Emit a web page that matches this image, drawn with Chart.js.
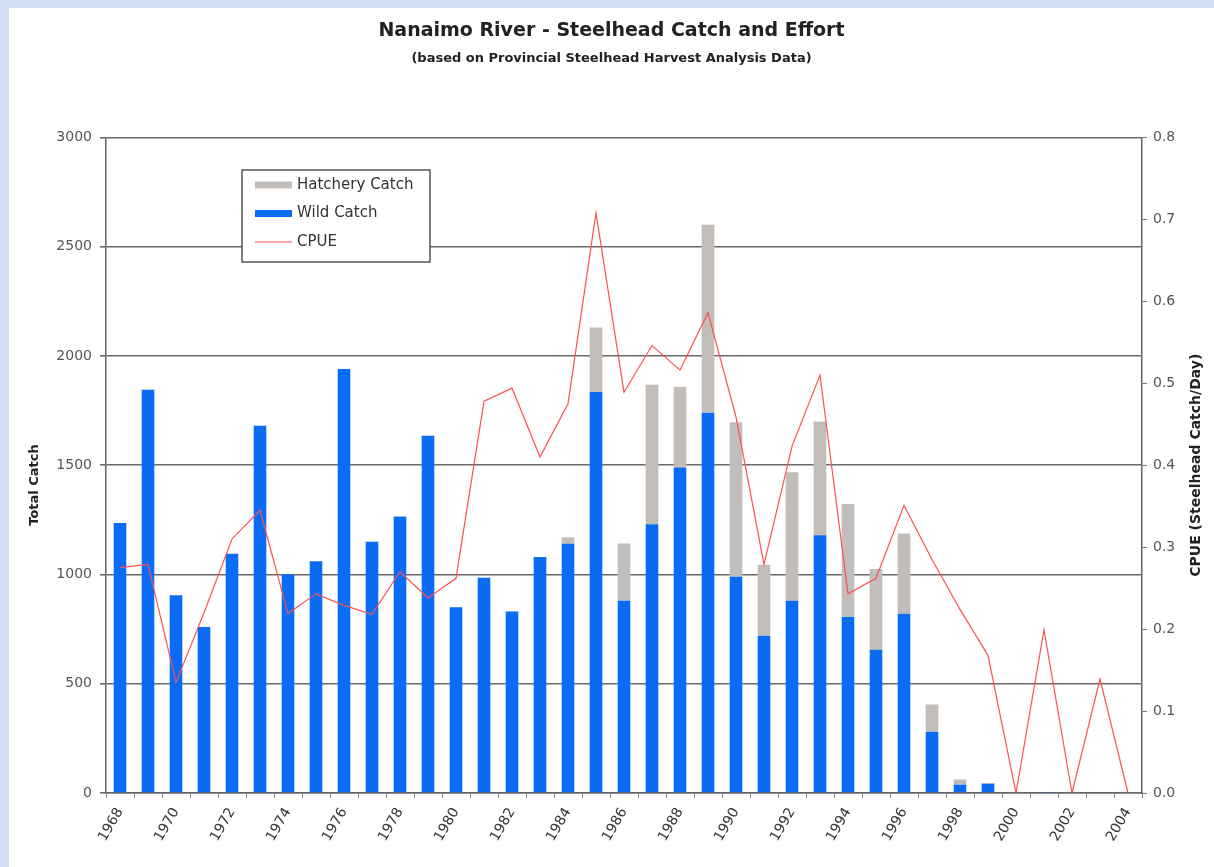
<!DOCTYPE html>
<html>
<head>
<meta charset="utf-8">
<title>Nanaimo River - Steelhead Catch and Effort</title>
<script src="https://cdn.jsdelivr.net/npm/chart.js@4"></script>
<style>
  html, body { margin: 0; padding: 0; background: #cfdff1; }
  #wrap { position: absolute; left: 9px; top: 8px; width: 1205px; height: 859px; background: #fff; }
</style>
</head>
<body>
<div id="wrap"><canvas id="chart"></canvas></div>
<script>
const years = ["1968","1969","1970","1971","1972","1973","1974","1975","1976","1977",
  "1978","1979","1980","1981","1982","1983","1984","1985","1986","1987",
  "1988","1989","1990","1991","1992","1993","1994","1995","1996","1997",
  "1998","1999","2000","2001","2002","2003","2004"];

const wildCatch = [1235, 1845, 905, 760, 1095, 1680, 1000, 1060, 1940, 1150,
  1265, 1635, 850, 985, 830, 1080, 1140, 1835, 880, 1230,
  1490, 1740, 990, 720, 880, 1180, 805, 655, 820, 280,
  38, 42, 0, 5, 0, 0, 0];

const hatcheryCatch = [0, 0, 0, 0, 0, 0, 0, 0, 0, 0,
  0, 0, 0, 0, 0, 0, 30, 295, 262, 638,
  368, 860, 707, 325, 588, 520, 518, 370, 368, 125,
  24, 4, 0, 0, 0, 3, 0];

const cpue = [0.275, 0.279, 0.135, 0.22, 0.31, 0.345, 0.219, 0.243, 0.229, 0.218,
  0.27, 0.238, 0.262, 0.478, 0.494, 0.41, 0.475, 0.708, 0.489, 0.546,
  0.516, 0.586, 0.459, 0.279, 0.423, 0.51, 0.243, 0.262, 0.351, 0.285,
  0.224, 0.168, 0, 0.199, 0, 0.139, 0];

const FONT = "'DejaVu Sans', Verdana, sans-serif";

// legend box and the two axis titles, drawn like the Excel original
const boxLegend = {
  id: 'boxLegend',
  afterDraw(chart) {
    const ctx = chart.ctx;
    const ds = chart.data.datasets;
    const order = [1, 0, 2]; // hatchery, wild, cpue
    const x = 233, y = 162, w = 188, h = 92;
    ctx.save();
    ctx.fillStyle = '#fff';
    ctx.fillRect(x, y, w, h);
    ctx.strokeStyle = '#555';
    ctx.lineWidth = 1.5;
    ctx.strokeRect(x, y, w, h);
    ctx.font = '15px ' + FONT;
    ctx.textBaseline = 'middle';
    order.forEach((i, row) => {
      const cy = y + 15 + row * 28.5;
      const d = ds[i];
      if (d.type === 'line') {
        ctx.strokeStyle = d.borderColor;
        ctx.lineWidth = 1.2;
        ctx.beginPath();
        ctx.moveTo(x + 13, cy);
        ctx.lineTo(x + 50, cy);
        ctx.stroke();
      } else {
        ctx.fillStyle = d.backgroundColor;
        ctx.fillRect(x + 13, cy - 3.5, 37, 7);
      }
      ctx.fillStyle = '#333';
      ctx.fillText(d.label, x + 55, cy);
    });
    ctx.restore();

    const area = chart.chartArea;
    ctx.save();
    ctx.textAlign = 'center';
    ctx.textBaseline = 'middle';
    ctx.fillStyle = '#222';
    ctx.font = 'bold 13px ' + FONT;
    ctx.translate(26, 477);
    ctx.rotate(-Math.PI / 2);
    ctx.fillText('Total Catch', 0, 0);
    ctx.restore();

    ctx.save();
    ctx.textAlign = 'center';
    ctx.textBaseline = 'middle';
    ctx.fillStyle = '#222';
    ctx.font = 'bold 14px ' + FONT;
    ctx.translate(1187, (area.top + area.bottom) / 2);
    ctx.rotate(-Math.PI / 2);
    ctx.fillText('CPUE (Steelhead Catch/Day)', 0, 0);
    ctx.restore();
  }
};

new Chart(document.getElementById('chart'), {
  type: 'bar',
  data: {
    labels: years,
    datasets: [{
      label: 'Wild Catch',
      data: wildCatch,
      backgroundColor: '#0a6cf5',
      order: 1
    }, {
      label: 'Hatchery Catch',
      data: hatcheryCatch,
      backgroundColor: '#c2bdb9',
      order: 2
    }, {
      type: 'line',
      label: 'CPUE',
      data: cpue,
      yAxisID: 'y1',
      borderColor: '#ff5050',
      borderWidth: 1.2,
      pointRadius: 0,
      tension: 0,
      order: 0
    }]
  },
  options: {
    responsive: true,
    maintainAspectRatio: false,
    animation: false,
    layout: { padding: 0 },
    datasets: { bar: { categoryPercentage: 1, barPercentage: 0.45 } },
    plugins: {
      legend: { display: false },
      tooltip: { enabled: false },
      title: {
        display: true,
        text: 'Nanaimo River - Steelhead Catch and Effort',
        color: '#222',
        font: { family: FONT, size: 19, weight: 'bold' },
        padding: { top: 12, bottom: 8 }
      },
      subtitle: {
        display: true,
        text: '(based on Provincial Steelhead Harvest Analysis Data)',
        color: '#222',
        font: { family: FONT, size: 13, weight: 'bold' },
        padding: { top: 0, bottom: 71 }
      }
    },
    scales: {
      x: {
        stacked: true,
        offset: true,
        grid: { display: true, offset: true, drawOnChartArea: false, drawTicks: true, tickLength: 5, color: '#888' },
        border: { display: true, color: '#666', width: 1.5 },
        ticks: {
          autoSkip: false,
          minRotation: 60,
          maxRotation: 60,
          padding: 7,
          color: '#333',
          font: { family: FONT, size: 14 },
          callback: function (v, i) { return i % 2 === 0 ? this.getLabelForValue(v) : ''; }
        },
        afterFit: s => { s.height = 74; }
      },
      y: {
        stacked: true,
        min: 0,
        max: 3000,
        ticks: { stepSize: 500, color: '#555', padding: 8, font: { family: FONT, size: 14 }, callback: v => String(v) },
        grid: { color: '#6a6a6a', lineWidth: 1.6, tickLength: 6 },
        border: { display: true, color: '#666', width: 1.5 },
        afterFit: s => { s.width = 97; }
      },
      y1: {
        position: 'right',
        min: 0,
        max: 0.8,
        ticks: {
          stepSize: 0.1,
          color: '#555',
          padding: 6,
          font: { family: FONT, size: 14 },
          callback: v => v.toFixed(1)
        },
        grid: { drawOnChartArea: false, tickLength: 5, color: '#777' },
        border: { display: true, color: '#666', width: 1.5 },
        afterFit: s => { s.width = 72; }
      }
    }
  },
  plugins: [boxLegend]
});
</script>
</body>
</html>
